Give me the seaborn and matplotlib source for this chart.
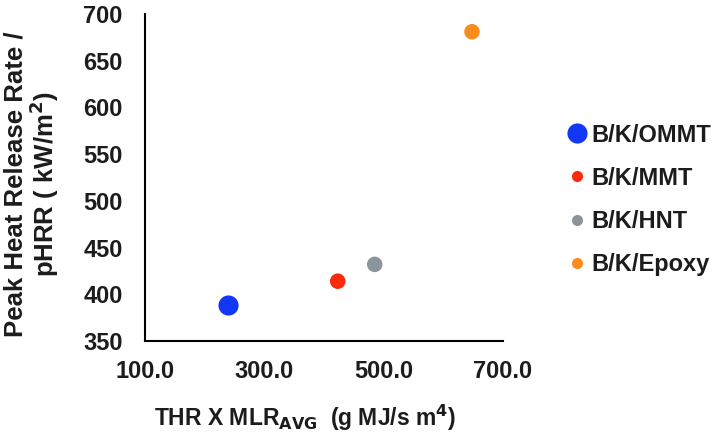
import matplotlib
matplotlib.use("Agg")
import matplotlib.pyplot as plt
import seaborn as sns
import pandas as pd

samples = ["B/K/OMMT", "B/K/MMT", "B/K/HNT", "B/K/Epoxy"]
thr_x_mlr = [240.0, 423.0, 485.0, 648.0]
phrr = [388.0, 414.0, 432.0, 681.0]
x_ticks = [100.0, 300.0, 500.0, 700.0]
y_ticks = [350, 400, 450, 500, 550, 600, 650, 700]

colors = {"B/K/OMMT": "#1238f5", "B/K/MMT": "#fa2a0c", "B/K/HNT": "#8b969b", "B/K/Epoxy": "#fb8c1c"}
sizes = {"B/K/OMMT": 210, "B/K/MMT": 125, "B/K/HNT": 125, "B/K/Epoxy": 125}
legend_marker = {"B/K/OMMT": 14.5, "B/K/MMT": 8, "B/K/HNT": 8, "B/K/Epoxy": 8}

df = pd.DataFrame({"Sample": samples, "THR_MLR": thr_x_mlr, "pHRR": phrr})

sns.set_style("white")
plt.rcParams["font.family"] = ["Liberation Sans", "DejaVu Sans"]
plt.rcParams["font.weight"] = "bold"
text_color = "#1c1c1c"

fig = plt.figure(figsize=(7.18, 4.34), dpi=100)
ax = fig.add_axes([145 / 718, 1 - 341 / 434, (503 - 145) / 718, (341 - 14) / 434])

sns.scatterplot(data=df, x="THR_MLR", y="pHRR", hue="Sample", size="Sample",
                palette=colors, sizes=sizes, linewidth=0, ax=ax, legend="full")

ax.set_xlim(100, 700)
ax.set_ylim(350, 700)
ax.set_xticks(x_ticks)
ax.set_xticklabels([f"{v:.1f}" for v in x_ticks])
ax.set_yticks(y_ticks)
ax.tick_params(length=0, labelsize=17, labelcolor=text_color)
ax.tick_params(axis="y", pad=16)
ax.tick_params(axis="x", pad=14)
for lbl in ax.get_xticklabels() + ax.get_yticklabels():
    lbl.set_fontweight("bold")

sns.despine(ax=ax)
for side in ["left", "bottom"]:
    ax.spines[side].set_color("black")
    ax.spines[side].set_linewidth(1.5)

ax.set_xlabel("THR X MLR$_{\\mathbf{AVG}}$  (g MJ/s m$^{\\mathbf{4}}$)", fontsize=16.5,
              fontweight="bold", color=text_color, labelpad=14)
ax.set_ylabel("Peak Heat Release Rate /\npHRR ( kW/m$^{\\mathbf{2}}$)", fontsize=18.5,
              fontweight="bold", color=text_color, labelpad=16, linespacing=1.0)
ax.xaxis.label.set_x(0.447)
ax.yaxis.label.set_y(0.48)

leg = ax.legend(loc="center left", bbox_to_anchor=(1.114, 0.432), frameon=False,
                fontsize=17, labelspacing=0.85, handletextpad=0.1, handlelength=1.0,
                title=None)
for t in leg.get_texts():
    t.set_fontweight("bold")
    t.set_color(text_color)
for h, t in zip(leg.legend_handles, leg.get_texts()):
    ms = legend_marker.get(t.get_text(), 8)
    if hasattr(h, "set_markersize"):
        h.set_markersize(ms)
    elif hasattr(h, "set_sizes"):
        h.set_sizes([ms ** 2])

fig.savefig("out.png", dpi=100)
